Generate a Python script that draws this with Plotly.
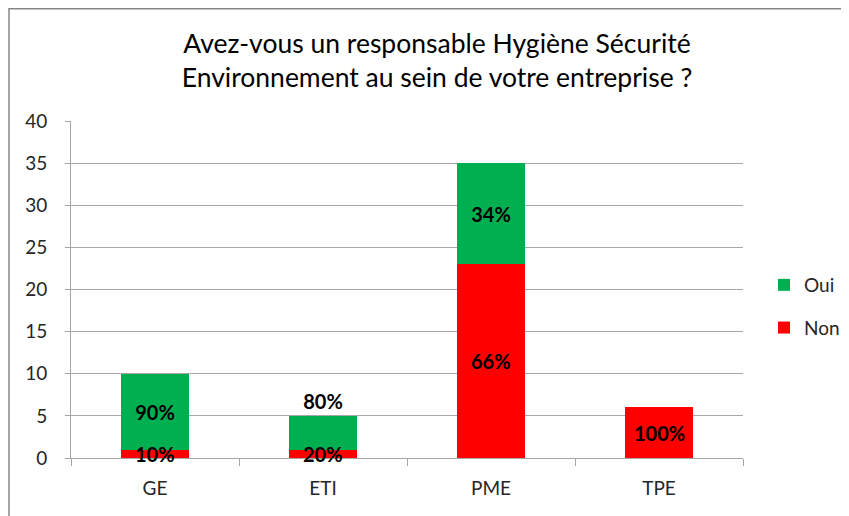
import plotly.graph_objects as go

categories = ["GE", "ETI", "PME", "TPE"]
non_values = [1, 1, 23, 6]
oui_values = [9, 4, 12, 0]
y_ticks = [0, 5, 10, 15, 20, 25, 30, 35, 40]

totals = [a + b for a, b in zip(non_values, oui_values)]
non_text = [f"{round(100 * n / t)}%" if n else "" for n, t in zip(non_values, totals)]
oui_text = [f"{round(100 * o / t)}%" if o else "" for o, t in zip(oui_values, totals)]
oui_pos = ["inside", "outside", "inside", "inside"]

FONT = "Lato, 'Open Sans', sans-serif"
LABEL_FONT = dict(family=FONT, size=20, color="black", weight="bold")
# page is rendered with an 8px body margin; figure coords = page coords - 8
L, T = 63, 113
PW, PH = 672, 337
W, H = 849, 516
R, B = W - L - PW, H - T - PH

fig = go.Figure()
fig.add_trace(go.Bar(
    x=categories, y=non_values, name="Non", marker_color="#FF0000",
    marker_line_width=0, legendgroup="non", legendrank=2,
))
fig.add_trace(go.Bar(
    x=categories, y=oui_values, name="Oui", marker_color="#00B050",
    marker_line_width=0, text=oui_text, textposition=oui_pos,
    insidetextanchor="middle", constraintext="none", cliponaxis=False,
    textfont=LABEL_FONT, legendgroup="oui", legendrank=1,
))

# "Non" percentage labels drawn on top of the stack (centred on each red segment)
for cat, n, txt in zip(categories, non_values, non_text):
    if txt:
        fig.add_annotation(x=cat, y=n / 2, text=txt, showarrow=False,
                           xref="x", yref="y", yanchor="middle",
                           font=LABEL_FONT)

fig.update_layout(
    width=W, height=H,
    margin=dict(l=L, r=R, t=T, b=B, autoexpand=False),
    barmode="stack", bargap=0.6,
    paper_bgcolor="white", plot_bgcolor="white",
    title=dict(
        text="Avez-vous un responsable Hygiène Sécurité<br>Environnement au sein de votre entreprise ?",
        x=429 / W, xanchor="center", xref="container",
        y=1 - 45 / H, yanchor="middle", yref="container",
        font=dict(family=FONT, size=26.5, color="black"),
    ),
    legend=dict(
        x=(756 - L) / PW, xanchor="left",
        y=(T + PH - 258) / PH, yanchor="top",
        traceorder="grouped", tracegroupgap=15,
        font=dict(family=FONT, size=19, color="#262626"),
        bgcolor="rgba(0,0,0,0)",
    ),
    showlegend=True,
    font=dict(family=FONT),
)
fig.update_yaxes(
    range=[0, 40], tickvals=y_ticks, showgrid=True, gridcolor="#a6a6a6", gridwidth=1,
    showline=True, linecolor="#a6a6a6", linewidth=1, ticks="outside", ticklen=5,
    tickcolor="#a6a6a6", tickfont=dict(family=FONT, size=19, color="#262626"),
    zeroline=False, ticklabelstandoff=14,
)
fig.update_xaxes(
    showline=True, linecolor="#a6a6a6", linewidth=1, ticks="outside", ticklen=7,
    tickcolor="#a6a6a6", tickson="boundaries",
    tickfont=dict(family=FONT, size=19, color="#262626"),
    ticklabelstandoff=13,
)

# chart-area border (top and left visible)
fig.add_shape(
    type="rect", xref="paper", yref="paper",
    x0=(1 - L) / PW, x1=2, y0=-1, y1=(T + PH - 0.75) / PH,
    line=dict(color="#868686", width=1.5), layer="below",
)

fig.write_html("out.html")
